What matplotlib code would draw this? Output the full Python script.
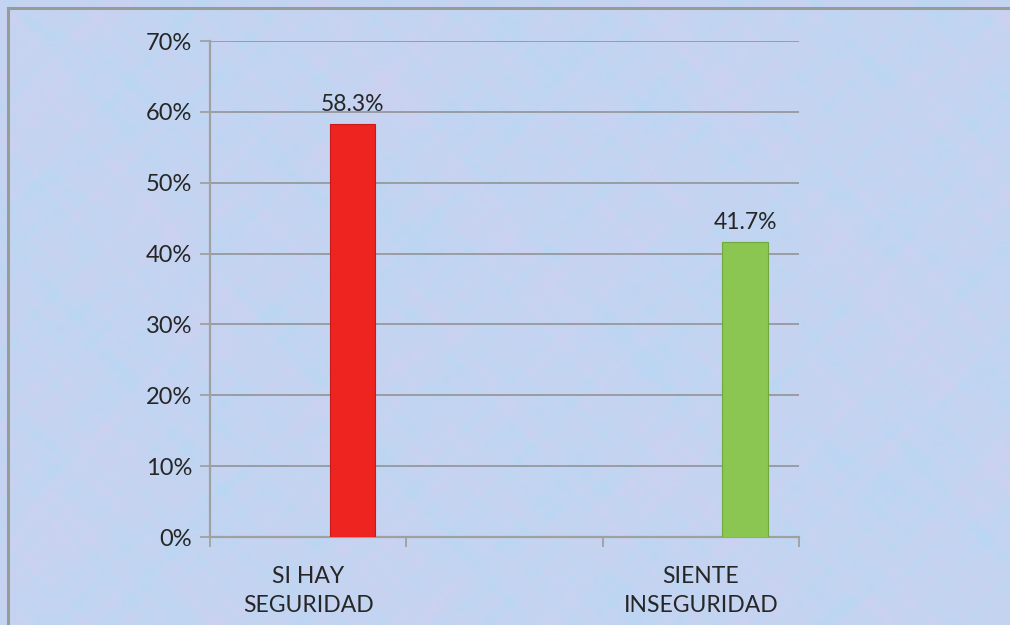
import numpy as np
import matplotlib
matplotlib.use("Agg")
import matplotlib.pyplot as plt
from matplotlib.patches import Rectangle

categories = ["SI HAY\nSEGURIDAD", "", "SIENTE\nINSEGURIDAD"]
label_pos = [0, 2]
values = [58.3, 41.7]
bar_colors = ["#EE2420", "#8CC652"]
edge_colors = ["#C81A18", "#6FA93C"]
yticks = [0, 10, 20, 30, 40, 50, 60, 70]

W, H = 1010, 625
fig = plt.figure(figsize=(W / 100, H / 100), dpi=100)
plt.rcParams['font.family'] = ['Lato', 'DejaVu Sans']

# decorative mottled background (deterministic)
yy, xx = np.mgrid[0:H // 2, 0:W // 2].astype(float)
t = np.zeros_like(xx)
freqs = [(0.071, 0.053, 0.3), (0.113, 0.087, 1.7), (0.191, 0.149, 2.9),
         (0.037, 0.029, 4.1), (0.263, 0.217, 0.7), (0.331, 0.293, 5.3),
         (0.47, 0.41, 2.2), (0.61, 0.57, 3.6)]
for fx, fy, ph in freqs:
    t += np.sin(fx * xx + ph) * np.cos(fy * yy + 1.3 * ph)
t2 = np.zeros_like(xx)
for fx, fy, ph in freqs[::-1]:
    t2 += np.cos(fx * 1.3 * yy + ph) * np.sin(fy * 0.9 * xx + 0.7 * ph)
t = (t - t.min()) / (t.max() - t.min())
t2 = (t2 - t2.min()) / (t2.max() - t2.min())
blue = np.array([176, 218, 244]) / 255
lav = np.array([202, 210, 242]) / 255
pink = np.array([222, 204, 234]) / 255
img = blue * t[..., None] + lav * (1 - t[..., None])
img = img * (1 - 0.4 * t2[..., None]) + pink * 0.4 * t2[..., None]
bg = fig.add_axes([0, 0, 1, 1], zorder=-5)
bg.imshow(img, aspect='auto', interpolation='bicubic', extent=[0, 1, 0, 1])
bg.set_axis_off()

# outer chart frame
fig.patches.append(Rectangle((8 / W, -0.1), 1.2, 1 - 8 / H + 0.1, transform=fig.transFigure,
                             fill=False, edgecolor='#9A9A9A', linewidth=2.2, zorder=10))

ax = fig.add_axes([210 / W, 1 - 537 / H, (799 - 210) / W, (537 - 41) / H])
ax.patch.set_alpha(0)

x = np.array(label_pos, dtype=float) + 0.5 + 0.225
ax.bar(x, values, width=0.23, color=bar_colors, edgecolor=edge_colors, linewidth=0.8, zorder=3)
for xi, v in zip(x, values):
    ax.text(xi, v + 1.2, f"{v:.1f}%", ha='center', va='bottom', fontsize=16.5, color='#262626')

ax.set_xlim(0, 3)
ax.set_ylim(0, 70)
ax.set_yticks(yticks)
ax.set_yticklabels([f"{v}%" for v in yticks], fontsize=17, color='#262626')
ax.yaxis.grid(True, color='#8E8E8E', linewidth=1.1, zorder=0)
ax.set_axisbelow(True)

ax.set_xticks([0, 1, 2, 3])
ax.set_xticklabels([])
ax.set_xticks([i + 0.5 for i in range(len(categories))], minor=True)
ax.set_xticklabels(categories, minor=True, fontsize=16.5, color='#262626', linespacing=1.45)
ax.tick_params(axis='x', which='minor', length=0, pad=21)
ax.tick_params(axis='x', which='major', length=7, color='#A0A0A0', width=1.3)
ax.tick_params(axis='y', length=7, color='#A0A0A0', width=1.3, pad=6)

for s in ['top', 'right']:
    ax.spines[s].set_visible(False)
for s in ['left', 'bottom']:
    ax.spines[s].set_color('#A0A0A0')
    ax.spines[s].set_linewidth(1.6)

fig.savefig("out.png", dpi=100)
